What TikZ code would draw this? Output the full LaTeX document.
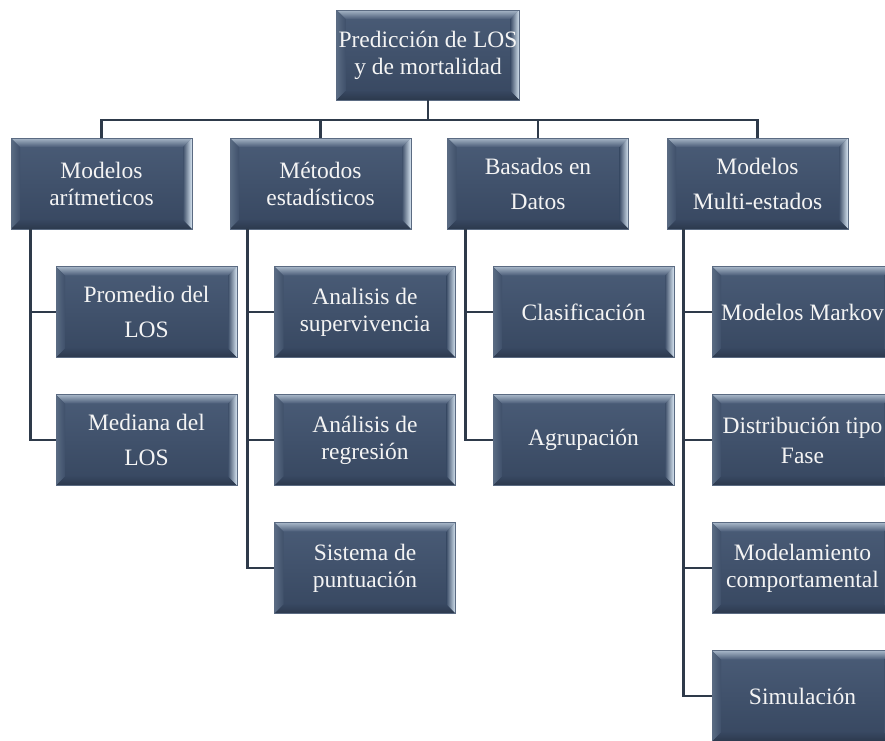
\documentclass[tikz,border=0pt]{standalone}
\usepackage{fontspec}
\setmainfont{Liberation Serif}
\definecolor{boxmain}{HTML}{3F506A}
\definecolor{boxtop}{HTML}{4A5C77}
\definecolor{boxbot}{HTML}{374760}
\definecolor{bevlight}{HTML}{A8B7C8}
\definecolor{bevright}{HTML}{D8E6F2}
\definecolor{bevleft}{HTML}{5A6C84}
\definecolor{bevbot}{HTML}{2C394D}
\definecolor{boxedge}{HTML}{5B6B82}
\definecolor{linecol}{HTML}{2E3A4A}
\definecolor{txt}{HTML}{F4F4F4}
\tikzset{
  bevbox/.style={rectangle, minimum width=181pt, minimum height=91pt, inner sep=2pt,
    text=txt, align=center, font=\fontsize{23.5}{27}\selectfont,
    draw=boxedge, line width=0.6pt,
    path picture={
      \path (path picture bounding box.north west) coordinate (pnw)
            (path picture bounding box.north east) coordinate (pne)
            (path picture bounding box.south west) coordinate (psw)
            (path picture bounding box.south east) coordinate (pse);
      \shade[top color=boxtop,bottom color=boxbot] (psw) rectangle (pne);
      \shade[top color=bevlight,bottom color=boxtop] (pnw) -- (pne) -- ([xshift=-9pt,yshift=-9pt]pne) -- ([xshift=9pt,yshift=-9pt]pnw) -- cycle;
      \shade[left color=boxmain,right color=bevright] (pne) -- (pse) -- ([xshift=-9pt,yshift=9pt]pse) -- ([xshift=-9pt,yshift=-9pt]pne) -- cycle;
      \shade[left color=bevleft,right color=boxmain] (pnw) -- ([xshift=9pt,yshift=-9pt]pnw) -- ([xshift=9pt,yshift=9pt]psw) -- (psw) -- cycle;
      \shade[top color=boxbot,bottom color=bevbot] (psw) -- ([xshift=9pt,yshift=9pt]psw) -- ([xshift=-9pt,yshift=9pt]pse) -- (pse) -- cycle;
    }},
  wide/.style={font=\fontsize{23.5}{35}\selectfont},
  mid/.style={font=\fontsize{23.5}{30}\selectfont},
  conn/.style={draw=linecol, line width=2.7pt},
}
\begin{document}
\begin{tikzpicture}[x=1pt,y=-1pt]
\useasboundingbox (0,0) rectangle (885,740);
\clip (0,0) rectangle (885,740);
% root
\node[bevbox, minimum width=180pt, minimum height=90pt] (top) at (428,55) {Predicción de LOS\\y de mortalidad};
% level 1
\node[bevbox] (m1) at (101.5,183.5) {Modelos\\arítmeticos};
\node[bevbox] (m2) at (320.5,183.5) {Métodos\\estadísticos};
\node[bevbox, wide] (m3) at (538,183.5) {Basados en\\Datos};
\node[bevbox, wide] (m4) at (757.5,183.5) {Modelos\\Multi-estados};
% level 2
\node[bevbox, wide] (a1) at (146.5,312) {Promedio del\\LOS};
\node[bevbox, wide] (a2) at (146.5,440) {Mediana del\\LOS};
\node[bevbox] (b1) at (365,312) {Analisis de\\supervivencia};
\node[bevbox] (b2) at (365,440) {Análisis de\\regresión};
\node[bevbox] (b3) at (365,568) {Sistema de\\puntuación};
\node[bevbox] (c1) at (583.5,312) {Clasificación};
\node[bevbox] (c2) at (583.5,440) {Agrupación};
\node[bevbox] (d1) at (802.5,312) {Modelos Markov};
\node[bevbox, mid] (d2) at (802.5,440) {Distribución tipo\\Fase};
\node[bevbox] (d3) at (802.5,568) {Modelamiento\\comportamental};
\node[bevbox] (d4) at (802.5,696) {Simulación};
% connectors level 0-1
\coordinate (bus) at (428,120);
\draw[conn] (top.south) -- (bus);
\draw[conn] (m1.north) |- (bus) -| (m4.north);
\draw[conn] (m2.north) -- (m2.north |- bus);
\draw[conn] (m3.north) -- (m3.north |- bus);
% connectors level 1-2
\draw[conn] ([xshift=20pt]m1.south west) |- (a2.west);
\draw[conn] ([xshift=20pt]m1.south west) |- (a1.west);
\draw[conn] ([xshift=18pt]m2.south west) |- (b3.west);
\draw[conn] ([xshift=18pt]m2.south west) |- (b2.west);
\draw[conn] ([xshift=18pt]m2.south west) |- (b1.west);
\draw[conn] ([xshift=18pt]m3.south west) |- (c2.west);
\draw[conn] ([xshift=18pt]m3.south west) |- (c1.west);
\draw[conn] ([xshift=17pt]m4.south west) |- (d4.west);
\draw[conn] ([xshift=17pt]m4.south west) |- (d3.west);
\draw[conn] ([xshift=17pt]m4.south west) |- (d2.west);
\draw[conn] ([xshift=17pt]m4.south west) |- (d1.west);
\end{tikzpicture}
\end{document}
